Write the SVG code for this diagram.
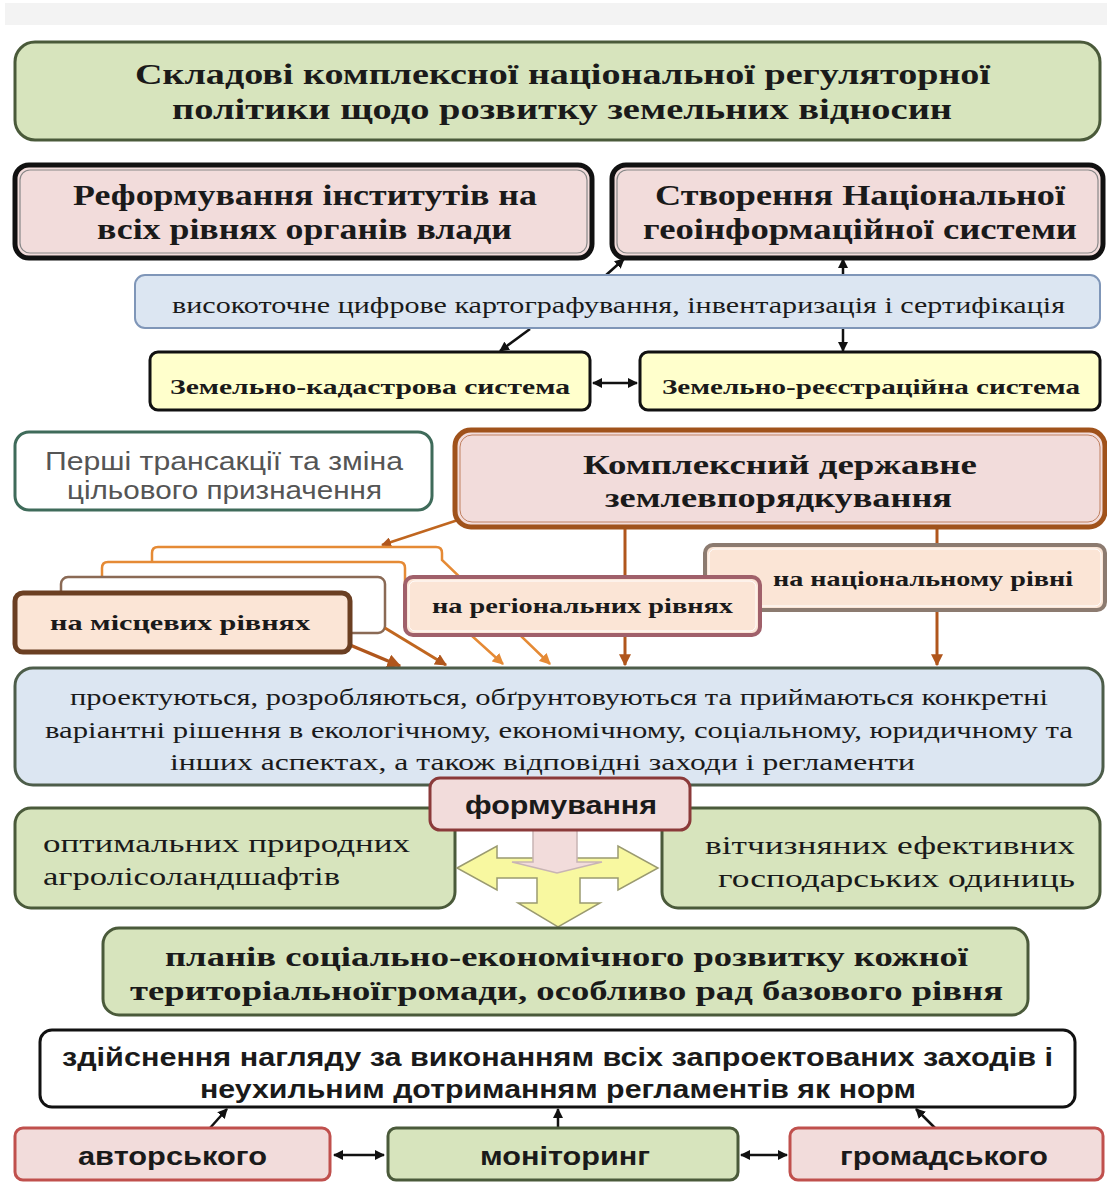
<svg xmlns="http://www.w3.org/2000/svg" width="1107" height="1189" viewBox="0 0 1107 1189">
<style>
.serif{font-family:"Liberation Serif","Times New Roman",serif;fill:#1a1a1a}
.b{font-weight:bold}
.sans{font-family:"Liberation Sans",Arial,sans-serif;fill:#1a1a1a}
.green{fill:#d7e4bd;stroke:#4a5a3a;stroke-width:3}
.pink{fill:#f2dcdb}
.peach{fill:#fbe5d6}
.conn{fill:none;stroke-width:2.5}
</style>
<defs>
<marker id="ab" viewBox="0 0 10 10" refX="9" refY="5" markerWidth="4" markerHeight="4" orient="auto-start-reverse"><path d="M0,0 L10,5 L0,10 z" fill="#111"/></marker>
<marker id="abr" viewBox="0 0 10 10" refX="9" refY="5" markerWidth="4" markerHeight="4" orient="auto"><path d="M0,0 L10,5 L0,10 z" fill="#b0561c"/></marker>
<marker id="aor" viewBox="0 0 10 10" refX="9" refY="5" markerWidth="4.5" markerHeight="4.5" orient="auto"><path d="M0,0 L10,5 L0,10 z" fill="#e58a35"/></marker>
</defs>
<rect width="1107" height="1189" fill="#ffffff"/>
<rect x="5" y="3" width="1102" height="22" fill="#f3f3f3"/>

<g id="connectors">
  <line class="conn" x1="605" y1="276" x2="624" y2="259" stroke="#111" marker-end="url(#ab)"/>
  <line class="conn" x1="843" y1="275" x2="843" y2="259" stroke="#111" marker-end="url(#ab)"/>
  <line class="conn" x1="530" y1="329" x2="500" y2="351" stroke="#111" marker-end="url(#ab)"/>
  <line class="conn" x1="843" y1="329" x2="843" y2="351" stroke="#111" marker-end="url(#ab)"/>
  <line class="conn" x1="593" y1="383" x2="637" y2="383" stroke="#111" marker-start="url(#ab)" marker-end="url(#ab)"/>
  <line class="conn" x1="458" y1="520" x2="382" y2="545" stroke="#c0661f" marker-end="url(#abr)"/>
  <line x1="625" y1="528" x2="625" y2="665" stroke="#b0561c" stroke-width="3" marker-end="url(#abr)"/>
  <line x1="937" y1="528" x2="937" y2="665" stroke="#b0561c" stroke-width="3" marker-end="url(#abr)"/>
  <path d="M152,562 L152,553 Q152,547 158,547 L436,547 Q442,547 442,553 L442,560 L550,664" fill="#fff" stroke="#e58a35" stroke-width="2.5" marker-end="url(#aor)"/>
  <path d="M102,577 L102,568 Q102,562 108,562 L399,562 Q405,562 405,568 L405,607 L440,607 L503,664" fill="#fff" stroke="#e58a35" stroke-width="2.5" marker-end="url(#aor)"/>
  <rect x="61" y="577" width="324" height="56" rx="7" fill="#fff" stroke="#8a6a55" stroke-width="2.5"/>
  <line x1="385" y1="628" x2="446" y2="665" stroke="#c0661f" stroke-width="3" marker-end="url(#abr)"/>
  <line x1="350" y1="645" x2="400" y2="666" stroke="#b0561c" stroke-width="3.5" marker-end="url(#abr)"/>
  <line class="conn" x1="210" y1="1128" x2="227" y2="1109" stroke="#111" marker-end="url(#ab)"/>
  <line class="conn" x1="558" y1="1128" x2="558" y2="1109" stroke="#111" marker-end="url(#ab)"/>
  <line class="conn" x1="935" y1="1128" x2="916" y2="1109" stroke="#111" marker-end="url(#ab)"/>
  <line class="conn" x1="334" y1="1155" x2="384" y2="1155" stroke="#111" marker-start="url(#ab)" marker-end="url(#ab)"/>
  <line class="conn" x1="741" y1="1155" x2="787" y2="1155" stroke="#111" marker-start="url(#ab)" marker-end="url(#ab)"/>
</g>

<g id="title">
  <rect x="15" y="42" width="1085" height="98" rx="20" class="green" stroke="#3e4a30" stroke-width="3.5"/>
  <text class="serif b" x="135" y="84" font-size="30" textLength="855" lengthAdjust="spacingAndGlyphs">Складові комплексної національної регуляторної</text>
  <text class="serif b" x="172" y="119" font-size="30" textLength="780" lengthAdjust="spacingAndGlyphs">політики щодо розвитку земельних відносин</text>
</g>

<g id="reform">
  <rect x="15" y="165" width="577" height="93" rx="14" class="pink" stroke="#111" stroke-width="5"/>
  <rect x="20" y="170" width="567" height="83" rx="10" fill="none" stroke="#888" stroke-width="1.2"/>
  <text class="serif b" x="73" y="205" font-size="29" textLength="464" lengthAdjust="spacingAndGlyphs">Реформування інститутів на</text>
  <text class="serif b" x="97" y="239" font-size="29" textLength="415" lengthAdjust="spacingAndGlyphs">всіх рівнях органів влади</text>
</g>

<g id="geo">
  <rect x="612" y="165" width="491" height="93" rx="14" class="pink" stroke="#111" stroke-width="5"/>
  <rect x="617" y="170" width="481" height="83" rx="10" fill="none" stroke="#888" stroke-width="1.2"/>
  <text class="serif b" x="655" y="205" font-size="29" textLength="410" lengthAdjust="spacingAndGlyphs">Створення Національної</text>
  <text class="serif b" x="643" y="239" font-size="29" textLength="434" lengthAdjust="spacingAndGlyphs">геоінформаційної системи</text>
</g>

<g id="mapping">
  <rect x="135" y="275" width="965" height="53" rx="10" fill="#dce6f2" stroke="#7f96b8" stroke-width="2"/>
  <text class="serif" x="172" y="313" font-size="23" textLength="893" lengthAdjust="spacingAndGlyphs">високоточне цифрове картографування, інвентаризація і сертифікація</text>
</g>

<g id="cadastre">
  <rect x="150" y="352" width="440" height="58" rx="8" fill="#ffffcc" stroke="#111" stroke-width="3"/>
  <text class="serif b" x="170" y="394" font-size="22" textLength="400" lengthAdjust="spacingAndGlyphs">Земельно-кадастрова система</text>
</g>

<g id="registry">
  <rect x="640" y="352" width="460" height="58" rx="8" fill="#ffffcc" stroke="#111" stroke-width="3"/>
  <text class="serif b" x="662" y="394" font-size="22" textLength="418" lengthAdjust="spacingAndGlyphs">Земельно-реєстраційна система</text>
</g>

<g id="transactions">
  <rect x="15" y="432" width="417" height="78" rx="14" fill="#ffffff" stroke="#3f6b5a" stroke-width="3"/>
  <text x="45" y="470" font-size="25" font-family="Liberation Sans, Arial, sans-serif" fill="#555" textLength="358" lengthAdjust="spacingAndGlyphs">Перші  трансакції  та зміна</text>
  <text x="67" y="499" font-size="25" font-family="Liberation Sans, Arial, sans-serif" fill="#555" textLength="315" lengthAdjust="spacingAndGlyphs">цільового призначення</text>
</g>

<g id="landmgmt">
  <rect x="455" y="430" width="650" height="97" rx="16" class="pink" stroke="#a0521b" stroke-width="5"/>
  <rect x="460" y="435" width="640" height="87" rx="12" fill="none" stroke="#c08060" stroke-width="1"/>
  <text class="serif b" x="583" y="474" font-size="28" textLength="394" lengthAdjust="spacingAndGlyphs">Комплексний державне</text>
  <text class="serif b" x="605" y="507" font-size="28" textLength="347" lengthAdjust="spacingAndGlyphs">землевпорядкування</text>
</g>

<g id="national">
  <rect x="705" y="545" width="400" height="65" rx="8" class="peach" stroke="#8c7b70" stroke-width="4"/>
  <rect x="709" y="549" width="392" height="57" rx="6" fill="none" stroke="#fff" stroke-width="1"/>
  <text class="serif b" x="773" y="586" font-size="21" textLength="300" lengthAdjust="spacingAndGlyphs">на національному рівні</text>
</g>

<g id="regional">
  <rect x="405" y="577" width="355" height="58" rx="8" class="peach" stroke="#a0606a" stroke-width="4"/>
  <rect x="409" y="581" width="347" height="50" rx="6" fill="none" stroke="#fff" stroke-width="1"/>
  <text class="serif b" x="432" y="613" font-size="21" textLength="301" lengthAdjust="spacingAndGlyphs">на регіональних рівнях</text>
</g>

<g id="local">
  <rect x="15" y="593" width="335" height="59" rx="8" class="peach" stroke="#6b3f22" stroke-width="5"/>
  <text class="serif b" x="50" y="630" font-size="21" textLength="260" lengthAdjust="spacingAndGlyphs">на місцевих рівнях</text>
</g>

<g id="decisions">
  <rect x="15" y="668" width="1088" height="117" rx="18" fill="#dce6f2" stroke="#4d5d4a" stroke-width="3"/>
  <text class="serif" x="70" y="705" font-size="24" textLength="978" lengthAdjust="spacingAndGlyphs">проектуються, розробляються, обґрунтовуються та приймаються конкретні</text>
  <text class="serif" x="45" y="738" font-size="24" textLength="1028" lengthAdjust="spacingAndGlyphs">варіантні рішення в екологічному, економічному, соціальному, юридичному та</text>
  <text class="serif" x="170" y="770" font-size="24" textLength="745" lengthAdjust="spacingAndGlyphs">інших  аспектах, а також відповідні заходи і регламенти</text>
</g>

<g id="landscapes">
  <rect x="15" y="808" width="440" height="100" rx="16" class="green"/>
  <text class="serif" x="43" y="852" font-size="25" textLength="367" lengthAdjust="spacingAndGlyphs">оптимальних природних</text>
  <text class="serif" x="43" y="885" font-size="25" textLength="297" lengthAdjust="spacingAndGlyphs">агролісоландшафтів</text>
</g>

<g id="units">
  <rect x="662" y="808" width="438" height="100" rx="16" class="green"/>
  <text class="serif" x="705" y="854" font-size="25" textLength="370" lengthAdjust="spacingAndGlyphs">вітчизняних ефективних</text>
  <text class="serif" x="718" y="887" font-size="25" textLength="357" lengthAdjust="spacingAndGlyphs">господарських одиниць</text>
</g>

<g id="threeway">
  <path d="M457,868 L497,846 L497,858 L618,858 L618,846 L658,868 L618,890 L618,878 L580,878 L580,903 L600,903 L558,927 L518,903 L537,903 L537,878 L497,878 L497,890 Z" fill="#f8f8a0" stroke="#9a9a70" stroke-width="1.5"/>
  <path d="M533,829 L577,829 L577,862 L602,862 L557,873 L512,862 L533,862 Z" fill="#f2dcdb" stroke="#c8b4b4" stroke-width="1.5"/>
</g>

<g id="formation">
  <rect x="430" y="778" width="260" height="52" rx="10" class="pink" stroke="#8b3a3a" stroke-width="3"/>
  <text class="sans b" x="465" y="814" font-size="25" textLength="192" lengthAdjust="spacingAndGlyphs">формування</text>
</g>

<g id="plans">
  <rect x="103" y="928" width="925" height="87" rx="16" class="green"/>
  <text class="serif b" x="165" y="966" font-size="28" textLength="803" lengthAdjust="spacingAndGlyphs">планів соціально-економічного розвитку кожної</text>
  <text class="serif b" x="130" y="1000" font-size="28" textLength="873" lengthAdjust="spacingAndGlyphs">територіальноїгромади, особливо рад базового рівня</text>
</g>

<g id="supervision">
  <rect x="40" y="1030" width="1035" height="77" rx="12" fill="#ffffff" stroke="#111" stroke-width="3"/>
  <text class="sans b" x="62" y="1066" font-size="26" textLength="991" lengthAdjust="spacingAndGlyphs">здійснення нагляду за виконанням всіх запроектованих заходів і</text>
  <text class="sans b" x="200" y="1098" font-size="26" textLength="716" lengthAdjust="spacingAndGlyphs">неухильним дотриманням регламентів як норм</text>
</g>

<g id="author">
  <rect x="15" y="1128" width="315" height="52" rx="8" class="pink" stroke="#c0504d" stroke-width="3"/>
  <text class="sans b" x="78" y="1165" font-size="26" textLength="189" lengthAdjust="spacingAndGlyphs">авторського</text>
</g>

<g id="monitoring">
  <rect x="388" y="1128" width="350" height="52" rx="8" class="green"/>
  <text class="sans b" x="480" y="1165" font-size="26" textLength="170" lengthAdjust="spacingAndGlyphs">моніторинг</text>
</g>

<g id="public">
  <rect x="790" y="1128" width="313" height="52" rx="8" class="pink" stroke="#c0504d" stroke-width="3"/>
  <text class="sans b" x="840" y="1165" font-size="26" textLength="208" lengthAdjust="spacingAndGlyphs">громадського</text>
</g>
</svg>
